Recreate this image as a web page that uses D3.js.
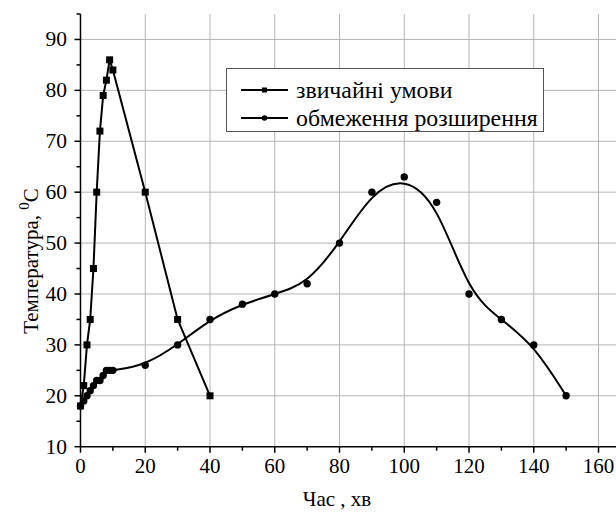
<!DOCTYPE html>
<html lang="uk">
<head>
<meta charset="UTF-8">
<title>Температура</title>
<script src="https://d3js.org/d3.v7.min.js"></script>
<style>
    body { margin: 0; background: #fff; }
    svg text { font-family: "Liberation Serif", Tinos, "Times New Roman", Times, "DejaVu Serif", serif; }
</style>
</head>
<body>
<script>
    // data
    const timeA = [0, 1, 2, 3, 4, 5, 6, 7, 8, 9, 10, 20, 30, 40];
    const tempA = [18, 22, 30, 35, 45, 60, 72, 79, 82, 86, 84, 60, 35, 20];
    const timeB = [0, 1, 2, 3, 4, 5, 6, 7, 8, 9, 10, 20, 30, 40, 50, 60, 70, 80, 90, 100, 110, 120, 130, 140, 150];
    const tempB = [18, 19, 20, 21, 22, 23, 23, 24, 25, 25, 25, 26, 30, 35, 38, 40, 42, 50, 60, 63, 58, 40, 35, 30, 20];
    const seriesNames = ["звичайні умови", "обмеження розширення"];
    const xTicks = [0, 20, 40, 60, 80, 100, 120, 140, 160];
    const xMinor = [10, 30, 50, 70, 90, 110, 130, 150];
    const yTicks = [10, 20, 30, 40, 50, 60, 70, 80, 90];
    const yMinor = [15, 25, 35, 45, 55, 65, 75, 85, 95];

    const W = 616, H = 519;
    const x = d3.scaleLinear().domain([0, 165.4]).range([80.5, 616]);
    const y = d3.scaleLinear().domain([10, 95]).range([446.7, 14]);

    const svg = d3.select("body").append("svg")
        .attr("width", W).attr("height", H);

    // grid
    const grid = svg.append("g").attr("stroke", "#b4b4b4").attr("stroke-width", 1);
    grid.selectAll(".gx").data(xTicks.slice(1)).join("line")
        .attr("x1", d => x(d)).attr("x2", d => x(d))
        .attr("y1", y(95)).attr("y2", y(10));
    grid.selectAll(".gy").data(yTicks.slice(1)).join("line")
        .attr("x1", x(0)).attr("x2", W)
        .attr("y1", d => y(d)).attr("y2", d => y(d));

    const ptsA = timeA.map((t, i) => [t, tempA[i]]);
    const ptsB = timeB.map((t, i) => [t, tempB[i]]);

    // lines
    svg.append("path")
        .attr("d", d3.line().x(d => x(d[0])).y(d => y(d[1]))(ptsA))
        .attr("fill", "none").attr("stroke", "#000").attr("stroke-width", 2);
    svg.append("path")
        .attr("d", d3.line().curve(d3.curveBasis).x(d => x(d[0])).y(d => y(d[1]))(ptsB))
        .attr("fill", "none").attr("stroke", "#000").attr("stroke-width", 2);

    // markers
    svg.append("g").selectAll("rect").data(ptsA).join("rect")
        .attr("x", d => x(d[0]) - 3.5).attr("y", d => y(d[1]) - 3.5)
        .attr("width", 7).attr("height", 7).attr("fill", "#000");
    svg.append("g").selectAll("circle").data(ptsB).join("circle")
        .attr("cx", d => x(d[0])).attr("cy", d => y(d[1]))
        .attr("r", 3.7).attr("fill", "#000");

    // legend
    const lg = svg.append("g");
    lg.append("rect").attr("x", 226.5).attr("y", 68.5).attr("width", 317).attr("height", 63)
        .attr("fill", "#fff").attr("stroke", "#555").attr("stroke-width", 1);
    seriesNames.forEach((name, i) => {
        const cy = 90 + i * 28;
        lg.append("line").attr("x1", 241).attr("x2", 288).attr("y1", cy).attr("y2", cy)
            .attr("stroke", "#000").attr("stroke-width", 2);
        if (i === 0) {
            lg.append("rect").attr("x", 262).attr("y", cy - 2.5).attr("width", 5).attr("height", 5);
        } else {
            lg.append("circle").attr("cx", 264.5).attr("cy", cy).attr("r", 2.8);
        }
        lg.append("text").attr("x", 296).attr("y", cy + 7.5)
            .attr("font-size", 23.8).text(name);
    });

    // axes
    const ax = svg.append("g").attr("stroke", "#000").attr("stroke-width", 1.5);
    ax.append("line").attr("x1", x(0)).attr("x2", x(0)).attr("y1", y(95)).attr("y2", y(10));
    ax.append("line").attr("x1", x(0)).attr("x2", W).attr("y1", y(10)).attr("y2", y(10));
    ax.selectAll(".tx").data(xTicks).join("line")
        .attr("x1", d => x(d)).attr("x2", d => x(d)).attr("y1", y(10)).attr("y2", y(10) + 6);
    ax.selectAll(".mx").data(xMinor).join("line")
        .attr("x1", d => x(d)).attr("x2", d => x(d)).attr("y1", y(10)).attr("y2", y(10) + 4);
    ax.selectAll(".ty").data(yTicks).join("line")
        .attr("x1", x(0) - 6).attr("x2", x(0)).attr("y1", d => y(d)).attr("y2", d => y(d));
    ax.selectAll(".my").data(yMinor).join("line")
        .attr("x1", x(0) - 4).attr("x2", x(0)).attr("y1", d => y(d)).attr("y2", d => y(d));

    svg.append("g").selectAll("text").data(xTicks).join("text")
        .attr("x", d => x(d)).attr("y", y(10) + 26)
        .attr("text-anchor", "middle").attr("font-size", 21).text(d => d);
    svg.append("g").selectAll("text").data(yTicks).join("text")
        .attr("x", x(0) - 13.5).attr("y", d => y(d) + 7)
        .attr("text-anchor", "end").attr("font-size", 21.5).text(d => d);

    // axis titles
    svg.append("text").attr("x", 337).attr("y", 506)
        .attr("text-anchor", "middle").attr("font-size", 21).text("Час , хв");
    const yt = svg.append("text")
        .attr("transform", "translate(38,261) rotate(-90)")
        .attr("text-anchor", "middle").attr("font-size", 21);
    yt.append("tspan").text("Температура, ");
    yt.append("tspan").attr("dy", -9).attr("font-size", 15).text("0");
    yt.append("tspan").attr("dy", 9).text("C");
</script>
</body>
</html>
